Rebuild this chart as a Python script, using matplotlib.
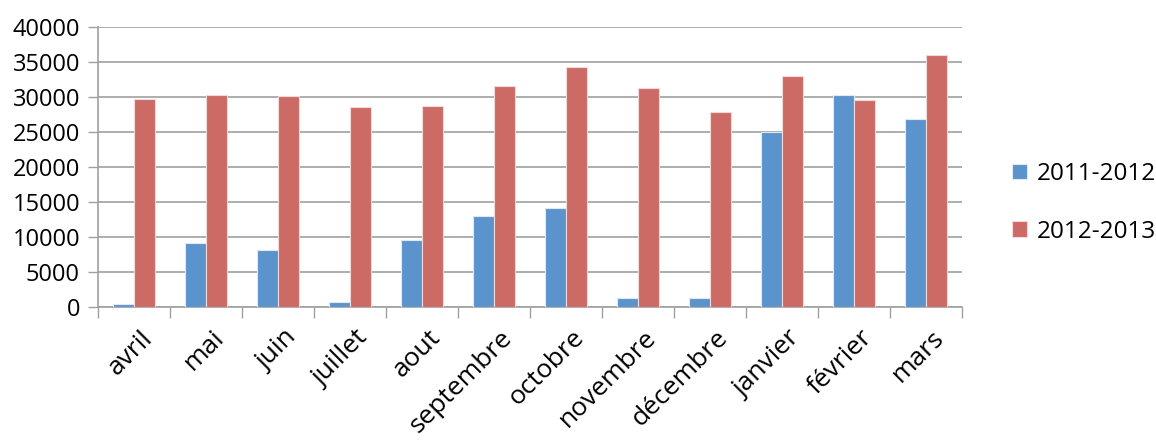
import numpy as np
import matplotlib
matplotlib.use("Agg")
from matplotlib import pyplot as plt

plt.rcParams['font.family'] = ['Open Sans', 'DejaVu Sans']

mois = ['avril', 'mai', 'juin', 'juillet', 'aout', 'septembre', 'octobre',
        'novembre', 'décembre', 'janvier', 'février', 'mars']
saison_2011_2012 = [500, 9200, 8200, 800, 9600, 13000, 14200, 1300, 1300, 25100, 30400, 26900]
saison_2012_2013 = [29700, 30300, 30200, 28600, 28800, 31600, 34300, 31400, 27900, 33000, 29600, 36000]
legende = ['2011-2012', '2012-2013']
yticks = [0, 5000, 10000, 15000, 20000, 25000, 30000, 35000, 40000]

bleu = '#5b93cd'
rouge = '#cc6a65'

fig = plt.figure(figsize=(11.56, 4.43), dpi=100)
ax = fig.add_axes([98 / 1156, 1 - 307.3 / 443, 864 / 1156, 280 / 443])

x = np.arange(len(mois))
w = 1 / 3.5
ax.bar(x - w / 2, saison_2011_2012, w, color=bleu, edgecolor='#dfe9f5', linewidth=0.8, label=legende[0], zorder=3)
ax.bar(x + w / 2, saison_2012_2013, w, color=rouge, edgecolor='#f3d9d8', linewidth=0.8, label=legende[1], zorder=3)

ax.set_xlim(-0.5, len(mois) - 0.5)
ax.set_ylim(0, 40000)
ax.set_yticks(yticks)
ax.set_yticklabels([str(v) for v in yticks], fontsize=17)
ax.yaxis.grid(True, color='#a0a0a0', linewidth=1.2, zorder=0)

# ticks at the boundaries between months, labels at the centres
ax.set_xticks(np.arange(len(mois) + 1) - 0.5)
ax.set_xticklabels([])
ax.set_xticks(x + 0.08, minor=True)
ax.set_xticklabels(mois, minor=True, fontsize=19, rotation=45, ha='right', rotation_mode='anchor')
ax.tick_params(axis='x', which='minor', length=0, pad=13)
ax.tick_params(axis='x', which='major', length=8, width=1, color='#a0a0a0', direction='out')
ax.tick_params(axis='y', length=7, width=1, color='#a0a0a0', pad=6)

for s in ['top', 'right']:
    ax.spines[s].set_visible(False)
for s in ['left', 'bottom']:
    ax.spines[s].set_color('#a0a0a0')
    ax.spines[s].set_linewidth(1.2)

ax.legend(loc='center left', bbox_to_anchor=(1012 / 1156, 1 - 202.75 / 443), bbox_transform=fig.transFigure,
          frameon=False, fontsize=17.5, borderpad=0, borderaxespad=0,
          handlelength=0.62, handleheight=0.62, handletextpad=0.41, labelspacing=1.38)

fig.savefig('out.png', dpi=100)
